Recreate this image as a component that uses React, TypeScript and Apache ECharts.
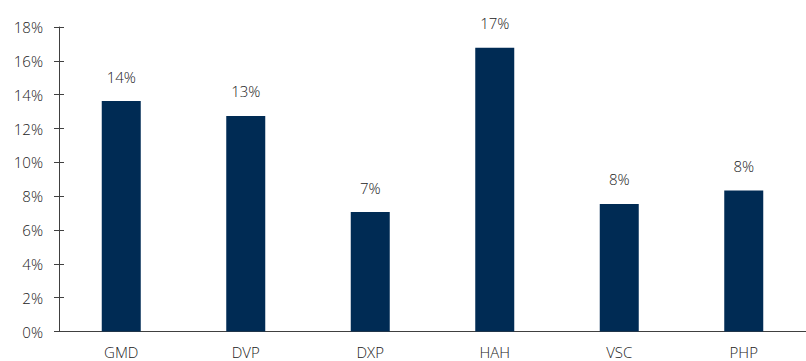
import React, { useEffect, useRef } from "react";
import * as echarts from "echarts";

const categories = ["GMD", "DVP", "DXP", "HAH", "VSC", "PHP"];
const values = [13.62, 12.74, 7.06, 16.77, 7.54, 8.34];
const yMin = 0;
const yMax = 18;
const yStep = 2;

const FONT = "'Open Sans', 'Noto Sans', sans-serif";
const TEXT = "#222222";
const AXIS = "#404040";
const BAR = "#002B54";
const WEIGHT = 300;

export default function App() {
  const ref = useRef<HTMLDivElement>(null);
  useEffect(() => {
    document.body.style.margin = "0";
    const chart = echarts.init(ref.current!, null, { renderer: "svg" });
    chart.setOption({
      animation: false,
      backgroundColor: "#ffffff",
      grid: { left: 59, top: 27, width: 754, height: 304.5, containLabel: false },
      xAxis: {
        type: "category",
        data: categories,
        axisLine: { lineStyle: { color: AXIS, width: 1 } },
        axisTick: { inside: true, length: 5, alignWithLabel: false, lineStyle: { color: AXIS } },
        axisLabel: { color: TEXT, fontFamily: FONT, fontSize: 15, fontWeight: WEIGHT, margin: 13 },
      },
      yAxis: [
        {
          type: "value",
          min: yMin,
          max: yMax,
          interval: yStep,
          axisLine: { show: true, lineStyle: { color: AXIS, width: 1 } },
          axisTick: { show: true, length: 5, lineStyle: { color: AXIS } },
          splitLine: { show: false },
          axisLabel: {
            color: TEXT,
            fontFamily: FONT,
            fontSize: 15,
            fontWeight: WEIGHT,
            margin: 16,
            formatter: (v: number) => `${v}%`,
          },
        },
        {
          type: "value",
          position: "left",
          min: yMin,
          max: yMax,
          interval: yStep,
          axisLine: { show: false },
          axisTick: { show: true, inside: true, length: 5, lineStyle: { color: AXIS } },
          splitLine: { show: false },
          axisLabel: { show: false },
        },
      ],
      series: [
        {
          type: "bar",
          data: values,
          yAxisIndex: 0,
          barWidth: 39,
          itemStyle: { color: BAR },
          label: {
            show: true,
            position: "top",
            distance: 17,
            color: TEXT,
            fontFamily: FONT,
            fontSize: 15,
            fontWeight: WEIGHT,
            formatter: (p: any) => `${Math.round(p.value)}%`,
          },
        },
      ],
    });
    return () => chart.dispose();
  }, []);
  return (
    <div
      ref={ref}
      style={{ position: "fixed", left: 0, top: 0, width: 806, height: 361 }}
    />
  );
}
